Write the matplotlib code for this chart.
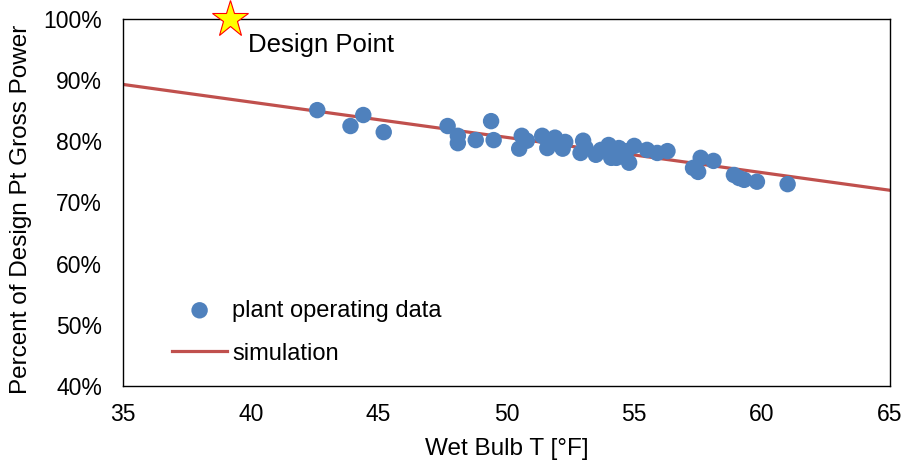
import matplotlib.pyplot as plt
from matplotlib.ticker import FuncFormatter

plt.rcParams["font.family"] = ["Liberation Sans", "DejaVu Sans"]

# plant operating data: wet bulb T [F], percent of design point gross power
wet_bulb = [42.6, 43.9, 44.4, 45.2, 47.7, 48.1, 48.1, 48.8, 49.4, 49.5,
            50.5, 50.6, 50.8, 51.4, 51.6, 51.7, 51.9, 52.1, 52.2, 52.3,
            52.9, 53.0, 53.1, 53.5, 53.7, 53.9, 54.0, 54.1, 54.1, 54.3,
            54.4, 54.7, 54.8, 55.0, 55.5, 55.9, 56.3, 57.3, 57.5, 57.6,
            58.1, 58.9, 59.1, 59.3, 59.8, 61.0]
power_pct = [85.1, 82.5, 84.3, 81.5, 82.5, 80.9, 79.7, 80.2, 83.3, 80.2,
             78.8, 80.9, 80.1, 80.9, 78.9, 79.9, 80.6, 79.4, 78.8, 79.9,
             78.1, 80.1, 78.9, 77.8, 78.6, 78.6, 79.4, 77.3, 78.1, 77.3,
             78.9, 78.4, 76.5, 79.25, 78.6, 78.1, 78.4, 75.65, 75.0, 77.3,
             76.8, 74.5, 74.0, 73.7, 73.4, 73.0]

# simulation line
sim_t = [35, 65]
sim_pct = [89.3, 72.0]

design_t = [39.2]
design_pct = [100]

fig = plt.figure(figsize=(9.07, 4.63), dpi=100)
ax = fig.add_axes([0.1356, 0.1663, 0.8455, 0.7927])

ax.plot(sim_t, sim_pct, color="#C0504D", lw=2.3, label="simulation", zorder=2)
ax.scatter(wet_bulb, power_pct, s=140, color="#4F81BD", edgecolors="none",
           label="plant operating data", zorder=3)
ax.plot(design_t, design_pct, marker="*", markersize=28, markerfacecolor="#FFFF00",
        markeredgecolor="#FF0000", markeredgewidth=0.8, linestyle="none",
        clip_on=False, zorder=5)
ax.text(39.9, 95.7, "Design Point", fontsize=18.5, va="center", ha="left")

ax.set_xlim(35, 65)
ax.set_ylim(40, 100)
ax.set_xticks(range(35, 66, 5))
ax.set_yticks(range(40, 101, 10))
ax.yaxis.set_major_formatter(FuncFormatter(lambda v, p: f"{v:.0f}%"))
ax.tick_params(length=0, labelsize=16.5)
ax.tick_params(axis="y", pad=15)
ax.tick_params(axis="x", pad=12)

for s in ax.spines.values():
    s.set_color("black")
    s.set_linewidth(1.0)

ax.set_xlabel("Wet Bulb T [°F]", fontsize=17.5)
ax.set_ylabel("Percent of Design Pt Gross Power", fontsize=17.5)
ax.xaxis.set_label_coords(0.5, -0.142)
ax.yaxis.set_label_coords(-0.118, 0.48)

h, l = ax.get_legend_handles_labels()
ax.legend(h[::-1], l[::-1], loc="lower left", bbox_to_anchor=(0.036, 0.0),
          frameon=False, fontsize=17, handlelength=2.35, labelspacing=0.9,
          handletextpad=0.2)

fig.savefig("out.png", dpi=100)
